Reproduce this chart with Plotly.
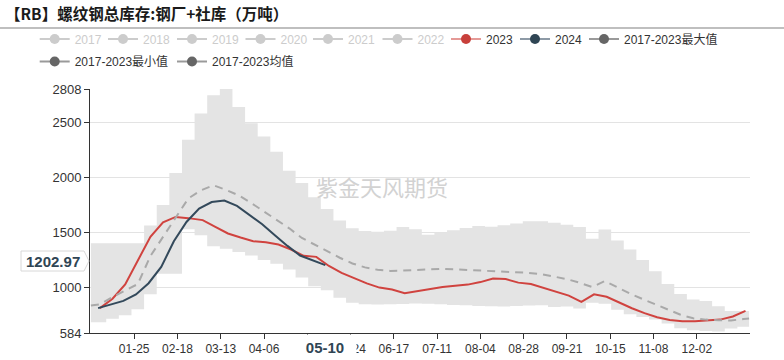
import pandas as pd
import plotly.graph_objects as go

# ---------------- data ----------------
CATEGORIES = pd.date_range("2024-01-01", "2024-12-31", freq="D").strftime("%m-%d").tolist()
TICK_VALUES = ["01-25", "02-18", "03-13", "04-06", "04-30", "05-24", "06-17", "07-11",
               "08-04", "08-28", "09-21", "10-15", "11-08", "12-02"]
# the 04-30 label is hidden behind the axis-pointer label in the original
TICK_TEXT = ["01-25", "02-18", "03-13", "04-06", "", "05-24", "06-17", "07-11",
             "08-04", "08-28", "09-21", "10-15", "11-08", "12-02"]
Y_TICKS = [584, 1000, 1500, 2000, 2500, 2808]

DATES_2023 = pd.date_range("2023-01-06", "2023-12-29", freq="7D").strftime("%m-%d").tolist()
DATES_2024 = pd.date_range("2024-01-05", "2024-05-10", freq="7D").strftime("%m-%d").tolist()
DATES_STATS = (["01-01"]
               + pd.date_range("2024-01-06", "2024-12-28", freq="7D").strftime("%m-%d").tolist()
               + ["12-31"])

VALUES_2023 = [811, 896, 1027, 1247, 1461, 1592, 1642, 1631,
               1613, 1552, 1491, 1454, 1421, 1412, 1390, 1345,
               1287, 1278, 1195, 1132, 1082, 1036, 998, 980,
               947, 968, 990, 1004, 1015, 1025, 1048, 1080,
               1076, 1043, 1030, 995, 962, 925, 868, 936,
               914, 860, 810, 765, 727, 703, 692, 692,
               698, 706, 735, 785]
VALUES_2024 = [811, 843, 877, 936, 1038, 1186, 1420, 1596, 1718, 1778,
               1792, 1742, 1659, 1576, 1476, 1378, 1290, 1247, 1203]
STATS_MAX = [1403, 1403, 1403, 1403, 1403, 1564, 1751, 2042, 2345, 2585, 2750, 2808,
             2645, 2495, 2376, 2236, 2064, 1951, 1821, 1715, 1609, 1539, 1514, 1508,
             1516, 1550, 1530, 1480, 1500, 1520, 1541, 1560, 1553, 1567, 1582, 1603,
             1603, 1590, 1570, 1550, 1444, 1527, 1427, 1346, 1250, 1146, 1031, 940,
             890, 875, 828, 785, 785, 785]
STATS_MIN = [683, 683, 713, 745, 800, 938, 1125, 1125, 1530, 1475, 1375, 1352,
             1322, 1291, 1250, 1216, 1163, 1090, 1010, 973, 905, 860, 845, 843,
             845, 848, 852, 850, 846, 840, 836, 830, 828, 826, 830, 835,
             838, 820, 825, 808, 860, 850, 795, 755, 730, 708, 670, 627,
             610, 603, 597, 625, 640, 640]
STATS_MEAN = [835, 845, 912, 972, 1030, 1285, 1462, 1645, 1810, 1885, 1930, 1888,
              1838, 1768, 1693, 1618, 1538, 1450, 1390, 1332, 1270, 1218, 1182, 1160,
              1150, 1153, 1160, 1166, 1168, 1165, 1160, 1153, 1147, 1143, 1138, 1132,
              1120, 1097, 1075, 1042, 1003, 1058, 998, 943, 893, 843, 793, 750,
              718, 706, 701, 698, 712, 716]

LEGEND_NAMES = ["2017", "2018", "2019", "2020", "2021", "2022", "2023", "2024",
                "2017-2023最大值", "2017-2023最小值", "2017-2023均值"]
LEGEND_LINE = ["#cccccc"] * 6 + ["#e59a97", "#8d9aa6", "#9a9a9a", "#9a9a9a", "#9a9a9a"]
LEGEND_DOT = ["#cccccc"] * 6 + ["#c8403b", "#2f4554", "#666666", "#666666", "#666666"]
LEGEND_TEXT = ["#cccccc"] * 6 + ["#333333"] * 5

TITLE = "【RB】螺纹钢总库存:钢厂+社库（万吨）"
WATERMARK = "紫金天风期货"
POINTER_X = "05-10"
POINTER_Y = "1202.97"

# ---------------- layout geometry ----------------
W, H = 784, 360
ML, MR, MT, MB = 90, 34, 89, 27
PW, PH = W - ML - MR, H - MT - MB


def px(xp):
    return (xp - ML) / PW


def py(yp):
    return (H - MB - yp) / PH


FONT = "Liberation Sans, Noto Sans CJK SC, sans-serif"
RED, NAVY = "#d0433f", "#33495b"

fig = go.Figure()

# min-max band
fig.add_trace(go.Scatter(x=DATES_STATS, y=STATS_MIN, mode="lines", line=dict(width=0, shape="hvh"),
                         showlegend=False, hoverinfo="skip"))
fig.add_trace(go.Scatter(x=DATES_STATS, y=STATS_MAX, mode="lines", line=dict(width=0, shape="hvh"),
                         fill="tonexty", fillcolor="#e4e4e4", showlegend=False, hoverinfo="skip"))
# 2023 / 2024
fig.add_trace(go.Scatter(x=DATES_2023, y=VALUES_2023, mode="lines", line=dict(color=RED, width=2),
                         showlegend=False))
fig.add_trace(go.Scatter(x=DATES_2024, y=VALUES_2024, mode="lines", line=dict(color=NAVY, width=2),
                         showlegend=False))
# mean
fig.add_trace(go.Scatter(x=DATES_STATS, y=STATS_MEAN, mode="lines",
                         line=dict(color="#a9a9a9", width=2, dash="8px,6px"), showlegend=False))

# legend entries (each in its own legend box to mimic the two-row layout)
ROW1_X = [54.7, 123, 192, 260.5, 328, 397.5, 466, 535, 604]
ROW2_X = [54.7, 192]
positions = [(x, 39) for x in ROW1_X] + [(x, 61.5) for x in ROW2_X]
legend_layouts = {}
for i, name in enumerate(LEGEND_NAMES):
    key = "legend" if i == 0 else f"legend{i + 1}"
    fig.add_trace(go.Scatter(x=[None], y=[None], mode="lines+markers", name=name,
                             line=dict(color=LEGEND_LINE[i], width=2),
                             marker=dict(color=LEGEND_DOT[i], size=10),
                             legend=key, showlegend=True))
    cx, cy = positions[i]
    legend_layouts[key] = dict(x=px(cx - 20), y=py(cy), xanchor="left", yanchor="middle",
                               orientation="h", bgcolor="rgba(0,0,0,0)", borderwidth=0,
                               itemclick=False, itemdoubleclick=False,
                               font=dict(family=FONT, size=12, color=LEGEND_TEXT[i]))

fig.update_layout(
    width=W, height=H,
    margin=dict(l=ML, r=MR, t=MT, b=MB, autoexpand=False),
    paper_bgcolor="white", plot_bgcolor="white",
    font=dict(family=FONT, size=12, color="#333"),
    showlegend=True,
    xaxis=dict(type="category", categoryorder="array", categoryarray=CATEGORIES,
               range=[-0.5, len(CATEGORIES) - 0.5], tickmode="array", tickvals=TICK_VALUES,
               ticktext=TICK_TEXT, ticks="outside", ticklen=5, tickcolor="#333",
               showline=True, linecolor="#333", linewidth=1, showgrid=False, zeroline=False,
               tickfont=dict(size=12, color="#333")),
    yaxis=dict(range=[Y_TICKS[0], Y_TICKS[-1]], tickmode="array", tickvals=Y_TICKS,
               ticks="outside", ticklen=5, tickcolor="#333", showline=True, linecolor="#333",
               linewidth=1, showgrid=True, gridcolor="#e3e3e3", zeroline=False,
               tickfont=dict(size=13, color="#333")),
    hovermode=False,
    **legend_layouts,
)

# title + separator line
fig.add_annotation(text=f"<b>{TITLE}</b>", xref="paper", yref="paper", x=px(3), y=py(13),
                   xanchor="left", yanchor="middle", showarrow=False,
                   font=dict(family="Noto Sans CJK SC", size=15.5, color="#1a1a1a"))
fig.add_shape(type="line", xref="paper", yref="paper", x0=px(0), x1=px(W), y0=py(28), y1=py(28),
              line=dict(color="#aaaaaa", width=1.5))

# watermark
fig.add_annotation(text=WATERMARK, xref="paper", yref="paper", x=px(382), y=py(186),
                   xanchor="center", yanchor="middle", showarrow=False,
                   font=dict(family="Noto Sans CJK SC", size=22, color="#d2d2d2"))

# axis pointer labels
fig.add_annotation(text=f"<b>{POINTER_X}</b>", xref="x", yref="paper", x=POINTER_X, y=py(347),
                   xanchor="center", yanchor="middle", showarrow=False, bgcolor="white",
                   width=58, height=20, borderpad=2,
                   font=dict(family=FONT, size=15, color="#2f4554"))
path = (f"M{px(21)},{py(251)} L{px(84)},{py(251)} L{px(89)},{py(261)} "
        f"L{px(84)},{py(271)} L{px(21)},{py(271)} Z")
fig.add_shape(type="path", xref="paper", yref="paper", path=path, fillcolor="white",
              line=dict(color="#d8d8d8", width=1), layer="above")
fig.add_annotation(text=f"<b>{POINTER_Y}</b>", xref="paper", yref="paper", x=px(53), y=py(261),
                   xanchor="center", yanchor="middle", showarrow=False,
                   font=dict(family=FONT, size=15, color="#2f4554"))

fig.write_html("out.html", config={"displayModeBar": False},
               post_script="document.body.style.margin='0px';"
                           "document.body.style.overflow='hidden';")
